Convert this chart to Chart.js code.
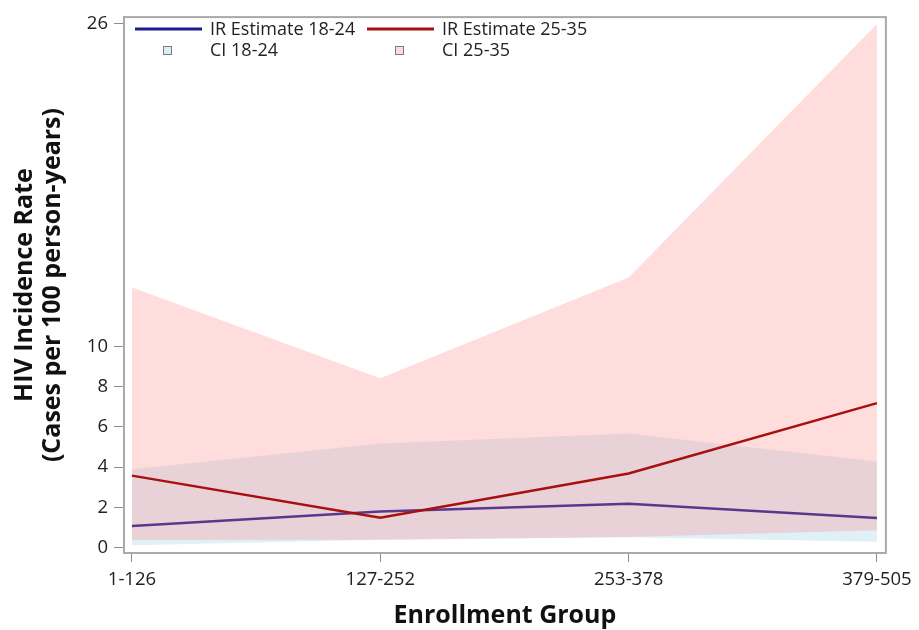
<!DOCTYPE html>
<html>
<head>
<meta charset="utf-8">
<script src="https://cdn.jsdelivr.net/npm/chart.js@4/dist/chart.umd.min.js"></script>
<style>
  html, body { margin: 0; padding: 0; background: #fff; }
  #wrap { width: 919px; height: 630px; }
</style>
</head>
<body>
<div id="wrap"><canvas id="c" width="919" height="630"></canvas></div>
<script>
// Enrollment groups and incidence estimates with confidence limits
const groups = ['1-126', '127-252', '253-378', '379-505'];
const ir1824 = [1.08, 1.80, 2.18, 1.48];
const ciLow1824 = [0.12, 0.40, 0.52, 0.30];
const ciHigh1824 = [3.90, 5.18, 5.67, 4.28];
const ir2535 = [3.58, 1.49, 3.69, 7.18];
const ciLow2535 = [0.38, 0.40, 0.54, 0.87];
const ciHigh2535 = [12.92, 8.41, 13.41, 26.0];
const yTicks = [0, 2, 4, 6, 8, 10, 26];

const FONT = "'Open Sans', 'DejaVu Sans', sans-serif";
const NAVY = '#1c1c8e';
const DARKRED = '#a80f0f';
const BLUE_BAND = 'rgba(140,200,225,0.28)';
const RED_BAND = 'rgba(255,130,130,0.27)';
const CLEAR = 'rgba(0,0,0,0)';

const pts = arr => arr.map((v, i) => ({ x: i, y: v }));

const bandStyle = {
  borderColor: CLEAR, borderWidth: 0, pointRadius: 0, pointHoverRadius: 0, tension: 0
};

// Frame around the plot area
const framePlugin = {
  id: 'frame',
  afterDatasetsDraw(chart) {
    const { ctx, chartArea: a } = chart;
    ctx.save();
    ctx.strokeStyle = '#a9a9a9';
    ctx.lineWidth = 2;
    ctx.strokeRect(a.left, a.top, a.right - a.left, a.bottom - a.top);
    ctx.restore();
  }
};

// Two-row legend inside the top of the plot
const legendPlugin = {
  id: 'cornerLegend',
  afterDraw(chart) {
    const { ctx } = chart;
    ctx.save();
    ctx.font = "18px " + FONT;
    ctx.textBaseline = 'middle';
    const row1 = 29, row2 = 50;
    const entries = [
      { kind: 'line', color: NAVY, x: 135, y: row1, text: 'IR Estimate 18-24' },
      { kind: 'line', color: DARKRED, x: 367, y: row1, text: 'IR Estimate 25-35' },
      { kind: 'box', color: '#dcedf4', x: 135, y: row2, text: 'CI 18-24' },
      { kind: 'box', color: '#fcdcdc', x: 367, y: row2, text: 'CI 25-35' }
    ];
    entries.forEach(e => {
      if (e.kind === 'line') {
        ctx.strokeStyle = e.color;
        ctx.lineWidth = 3;
        ctx.beginPath();
        ctx.moveTo(e.x, e.y);
        ctx.lineTo(e.x + 67, e.y);
        ctx.stroke();
      } else {
        ctx.fillStyle = e.color;
        ctx.fillRect(e.x + 28, e.y - 4, 9, 9);
        ctx.strokeStyle = '#7d7d7d';
        ctx.lineWidth = 1;
        ctx.strokeRect(e.x + 28.5, e.y - 3.5, 8, 8);
      }
      ctx.fillStyle = '#222';
      ctx.fillText(e.text, e.x + 75, e.y + 1);
    });
    ctx.restore();
  }
};

new Chart(document.getElementById('c'), {
  type: 'line',
  data: {
    datasets: [
      Object.assign({ label: 'CI 18-24', data: pts(ciHigh1824), fill: { target: 1 },
        backgroundColor: BLUE_BAND, order: 4 }, bandStyle),
      Object.assign({ label: 'CI 18-24 low', data: pts(ciLow1824), fill: false, order: 4 }, bandStyle),
      { label: 'IR Estimate 18-24', data: pts(ir1824), borderColor: NAVY, borderWidth: 2.5,
        pointRadius: 0, fill: false, tension: 0, order: 3 },
      Object.assign({ label: 'CI 25-35', data: pts(ciHigh2535), fill: { target: 4 },
        backgroundColor: RED_BAND, order: 2 }, bandStyle),
      Object.assign({ label: 'CI 25-35 low', data: pts(ciLow2535), fill: false, order: 2 }, bandStyle),
      { label: 'IR Estimate 25-35', data: pts(ir2535), borderColor: DARKRED, borderWidth: 2.5,
        pointRadius: 0, fill: false, tension: 0, order: 1 }
    ]
  },
  options: {
    responsive: false,
    animation: false,
    devicePixelRatio: 1,
    layout: { padding: { top: 12, right: 29, bottom: 0, left: 0 } },
    plugins: { legend: { display: false }, tooltip: { enabled: false } },
    scales: {
      x: {
        type: 'linear',
        min: -0.032,
        max: 3.036,
        afterBuildTicks(scale) { scale.ticks = groups.map((g, i) => ({ value: i })); },
        afterFit(scale) { scale.height = 77; },
        ticks: {
          callback: v => groups[v],
          color: '#222',
          font: { family: FONT, size: 18.5 },
          padding: 7,
          maxRotation: 0
        },
        grid: { display: true, drawOnChartArea: false, drawTicks: true, tickLength: 9, color: '#8c8c8c', lineWidth: 1 },
        border: { display: false },
        title: {
          display: true,
          text: 'Enrollment Group',
          color: '#111',
          font: { family: FONT, size: 25, weight: 'bold', lineHeight: 1.1 },
          padding: { top: 0, bottom: 0 }
        }
      },
      y: {
        type: 'linear',
        min: -0.26,
        max: 26.34,
        afterBuildTicks(scale) { scale.ticks = yTicks.map(v => ({ value: v })); },
        afterFit(scale) { scale.width = 124; },
        ticks: {
          color: '#222',
          font: { family: FONT, size: 18.5 },
          padding: 6
        },
        grid: { display: true, drawOnChartArea: false, drawTicks: true, tickLength: 10, color: '#8c8c8c', lineWidth: 1 },
        border: { display: false },
        title: {
          display: true,
          text: ['HIV Incidence Rate', '(Cases per 100 person-years)'],
          color: '#111',
          font: { family: FONT, size: 25, weight: 'bold', lineHeight: 28 / 25 },
          padding: { top: 11, bottom: 0 }
        }
      }
    }
  },
  plugins: [framePlugin, legendPlugin]
});
</script>
</body>
</html>
